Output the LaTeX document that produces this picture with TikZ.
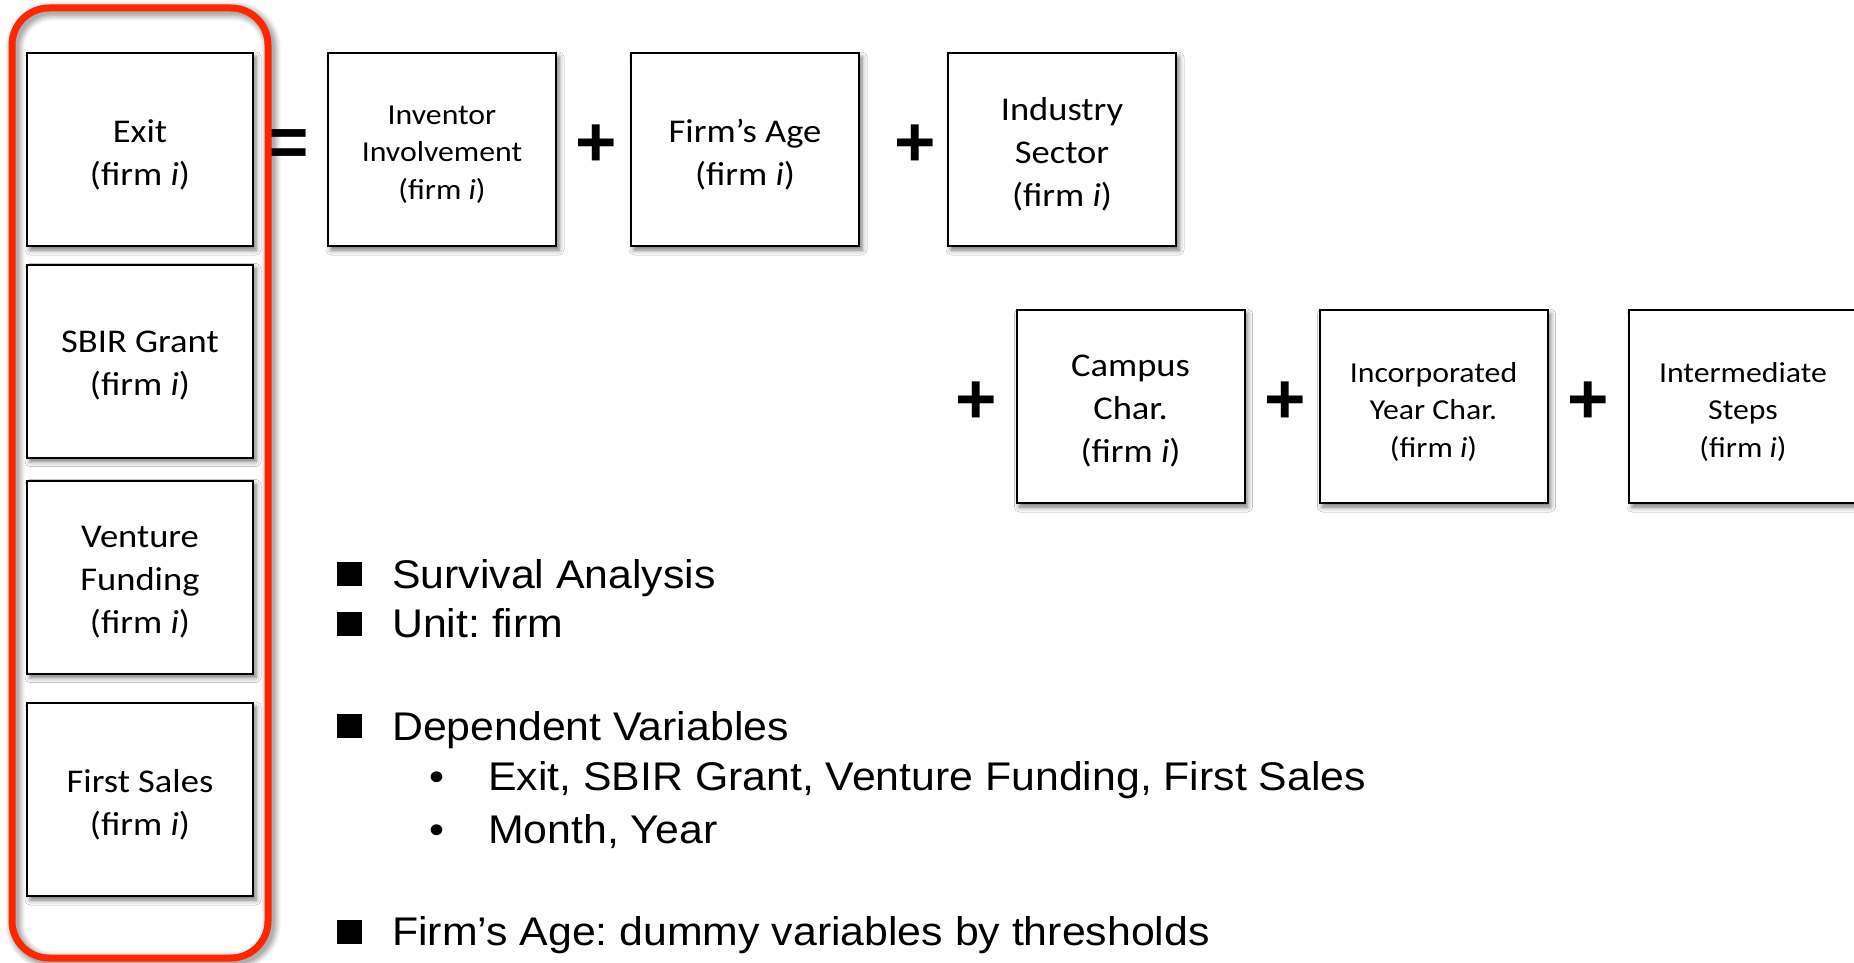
\documentclass[tikz,border=0pt]{standalone}
\usepackage{fontspec}
\usetikzlibrary{shadows.blur}

\newfontfamily\boxfont[FakeStretch=1.1]{Carlito}
\newfontfamily\listfont[FakeStretch=1.07]{Liberation Sans}
\newfontfamily\opfont{Liberation Sans}

\definecolor{framered}{RGB}{255,38,0}

\tikzset{
  varbox/.style={draw=black, line width=2pt, fill=white,
    minimum width=228pt, minimum height=193pt, inner sep=0pt,
    blur shadow={shadow xshift=3pt, shadow yshift=-4pt,
      shadow blur radius=5pt, shadow opacity=55}},
  bigtext/.style={font=\boxfont\fontsize{33.2}{43}\selectfont,
    align=center, inner sep=0pt},
  smalltext/.style={font=\boxfont\fontsize{28.9}{37.5}\selectfont,
    align=center, inner sep=0pt},
  op/.style={font=\opfont\bfseries\fontsize{71}{71}\selectfont,
    anchor=base, inner sep=0pt},
  listtext/.style={font=\listfont\fontsize{40}{48}\selectfont\frenchspacing,
    anchor=base west, inner sep=0pt},
  dotbullet/.style={font=\listfont\fontsize{40}{48}\selectfont,
    anchor=base, inner sep=0pt},
  sqbullet/.style={fill=black, minimum width=25pt, minimum height=24pt,
    inner sep=0pt},
  dvframe/.style={draw=framered, line width=7pt, rounded corners=37pt,
    minimum width=256pt, minimum height=950pt, inner sep=0pt},
}

\begin{document}
\begin{tikzpicture}[x=1pt, y=-1pt]
  % canvas
  \fill[white] (0,0) rectangle (1854,963);
  \useasboundingbox (0,0) rectangle (1854,963);

  % dependent variables (left column)
  \node[varbox, minimum width=226pt] (exit)    at (140,149.5) {};
  \node[varbox, minimum width=226pt] (sbir)    at (140,361)   {};
  \node[varbox, minimum width=226pt] (venture) at (140,577)   {};
  \node[varbox, minimum width=226pt] (first)   at (140,799.5) {};

  % explanatory variables
  \node[varbox] (inventor) at (442,149.5)   {};
  \node[varbox] (age)      at (745,149.5)   {};
  \node[varbox] (industry) at (1062,149.5)  {};
  \node[varbox] (campus)   at (1130.5,406.5) {};
  \node[varbox] (incorp)   at (1433.5,406.5) {};
  \node[varbox] (inter)    at (1743,406.5)   {};

  % box labels
  \node[bigtext] (exit-t)    at ([yshift=-5pt]exit.center)    {Exit\\(firm \textit{i})};
  \node[bigtext] (sbir-t)    at ([yshift=-5pt]sbir.center)    {SBIR Grant\\(firm \textit{i})};
  \node[bigtext] (venture-t) at ([yshift=-5pt]venture.center) {Venture\\Funding\\(firm \textit{i})};
  \node[bigtext] (first-t)   at ([yshift=-5pt]first.center)   {First Sales\\(firm \textit{i})};

  \node[smalltext] (inventor-t) at ([yshift=-5pt]inventor.center) {Inventor\\Involvement\\(firm \textit{i})};
  \node[bigtext]   (age-t)      at ([yshift=-5pt]age.center)      {Firm’s Age\\(firm \textit{i})};
  \node[bigtext]   (industry-t) at ([yshift=-5pt]industry.center) {Industry\\Sector\\(firm \textit{i})};
  \node[bigtext]   (campus-t)   at ([yshift=-5pt]campus.center)   {Campus\\Char.\\(firm \textit{i})};
  \node[smalltext] (incorp-t)   at ([yshift=-5pt]incorp.center)   {Incorporated\\Year Char.\\(firm \textit{i})};
  \node[smalltext] (inter-t)    at ([yshift=-5pt]inter.center)    {Intermediate\\Steps\\(firm \textit{i})};

  % operators
  \node[op] (eq)  at (288,166)     {=};
  \node[op] (p1)  at (596.5,166.5) {+};
  \node[op] (p2)  at (915,166.5)   {+};
  \node[op] (p3)  at (976,423.5)   {+};
  \node[op] (p4)  at (1285,423.5)  {+};
  \node[op] (p5)  at (1588,423.5)  {+};

  % soft shadow under the frame
  \foreach \w/\o in {19/0.05,16/0.06,13/0.07,10/0.08,7/0.09}{
    \draw[black, opacity=\o, line width=\w pt, rounded corners=37pt]
      (15,11) rectangle (271,961);
  }
  % frame round the dependent variables
  \node[dvframe] (frame) at (140,483) {};

  % notes
  \node[sqbullet] (b1) at (349.5,574)   {};
  \node[sqbullet] (b2) at (349.5,623.5) {};
  \node[sqbullet] (b3) at (349.5,726.3) {};
  \node[sqbullet] (b4) at (349.5,931.7) {};

  \node[listtext] (l1) at (392,588)   {Survival Analysis};
  \node[listtext] (l2) at (392,637.5) {Unit: firm};
  \node[listtext] (l3) at (392,740)   {Dependent Variables};
  \node[dotbullet] (d1) at (436.5,790.5) {•};
  \node[listtext] (l4) at (488,790.5) {Exit, SBIR Grant, Venture Funding, First Sales};
  \node[dotbullet] (d2) at (436.5,843) {•};
  \node[listtext] (l5) at (488,843)   {Month, Year};
  \node[listtext] (l6) at (392,945.5) {Firm’s Age: dummy variables by thresholds};
\end{tikzpicture}
\end{document}
